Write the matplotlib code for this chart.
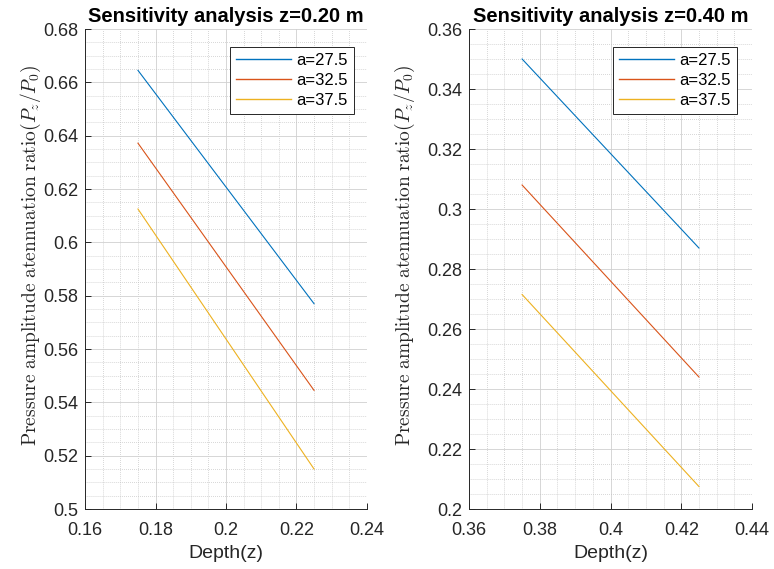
import numpy as np
import matplotlib.pyplot as plt
from matplotlib.ticker import MultipleLocator

plt.rcParams['font.family'] = ['Liberation Sans', 'DejaVu Sans']
plt.rcParams['mathtext.fontset'] = 'cm'

# datos
labels = ['a=27.5', 'a=32.5', 'a=37.5']
colors = ['#0072BD', '#D95319', '#EDB120']

z1 = [0.175, 0.225]
p1 = [[0.6645, 0.5770],
      [0.6372, 0.5445],
      [0.6125, 0.5150]]

z2 = [0.375, 0.425]
p2 = [[0.3500, 0.2870],
      [0.3080, 0.2440],
      [0.2715, 0.2075]]

ylab = r'$\mathrm{Pressure\ amplitude\ atennuation\ ratio}(P_z/P_0)$'

fig = plt.figure(figsize=(7.74, 5.69), dpi=100)
ax1 = fig.add_axes([0.110, 0.1054, 0.364, 0.8436])
ax2 = fig.add_axes([0.606, 0.1054, 0.3656, 0.8436])

panels = [
    (ax1, z1, p1, 'Sensitivity analysis z=0.20 m', (0.16, 0.24), (0.5, 0.68), 0.954, -0.150),
    (ax2, z2, p2, 'Sensitivity analysis z=0.40 m', (0.36, 0.44), (0.2, 0.36), 0.947, -0.184),
]

fmt = plt.FuncFormatter(lambda v, _: f'{v:.2f}'.rstrip('0').rstrip('.'))

for ax, z, p, title, xl, yl, lx, ylx in panels:
    for vals, lab, c in zip(p, labels, colors):
        ax.plot(z, vals, color=c, lw=0.8, label=lab)
    ax.set_xlim(*xl)
    ax.set_ylim(*yl)
    ax.xaxis.set_major_locator(MultipleLocator(0.02))
    ax.xaxis.set_minor_locator(MultipleLocator(0.005))
    ax.yaxis.set_major_locator(MultipleLocator(0.02))
    ax.yaxis.set_minor_locator(MultipleLocator(0.005))
    ax.xaxis.set_major_formatter(fmt)
    ax.yaxis.set_major_formatter(fmt)
    ax.grid(which='major', color='#d0d0d0', lw=0.6)
    ax.grid(which='minor', color='#c0c0c0', lw=0.55, ls=':')
    ax.set_axisbelow(True)
    for s in ['top', 'right']:
        ax.spines[s].set_visible(False)
    for s in ['left', 'bottom']:
        ax.spines[s].set_color('#262626')
        ax.spines[s].set_linewidth(0.7)
    ax.tick_params(which='major', direction='in', length=4, width=0.7,
                   colors='#262626', labelsize=13, labelcolor='#262626')
    ax.tick_params(axis='x', which='major', pad=9)
    ax.tick_params(axis='y', which='major', pad=5)
    ax.tick_params(which='minor', length=0)
    ax.set_title(title, fontsize=14.5, fontweight='bold', pad=5)
    ax.set_xlabel('Depth(z)', fontsize=14, color='#262626', labelpad=5)
    ax.set_ylabel(ylab, fontsize=14, color='#262626')
    ax.yaxis.set_label_coords(ylx, 0.529)
    leg = ax.legend(loc='upper right', bbox_to_anchor=(lx, 0.9625), fontsize=12,
                    frameon=True, fancybox=False, handlelength=3.3,
                    borderaxespad=0, labelspacing=0.3, handletextpad=0.35,
                    borderpad=0.35)
    leg.get_frame().set_edgecolor('#262626')
    leg.get_frame().set_linewidth(0.7)
    leg.get_frame().set_alpha(1)
    for h in leg.get_lines():
        h.set_linewidth(1.0)

plt.savefig('out.png', dpi=100)
